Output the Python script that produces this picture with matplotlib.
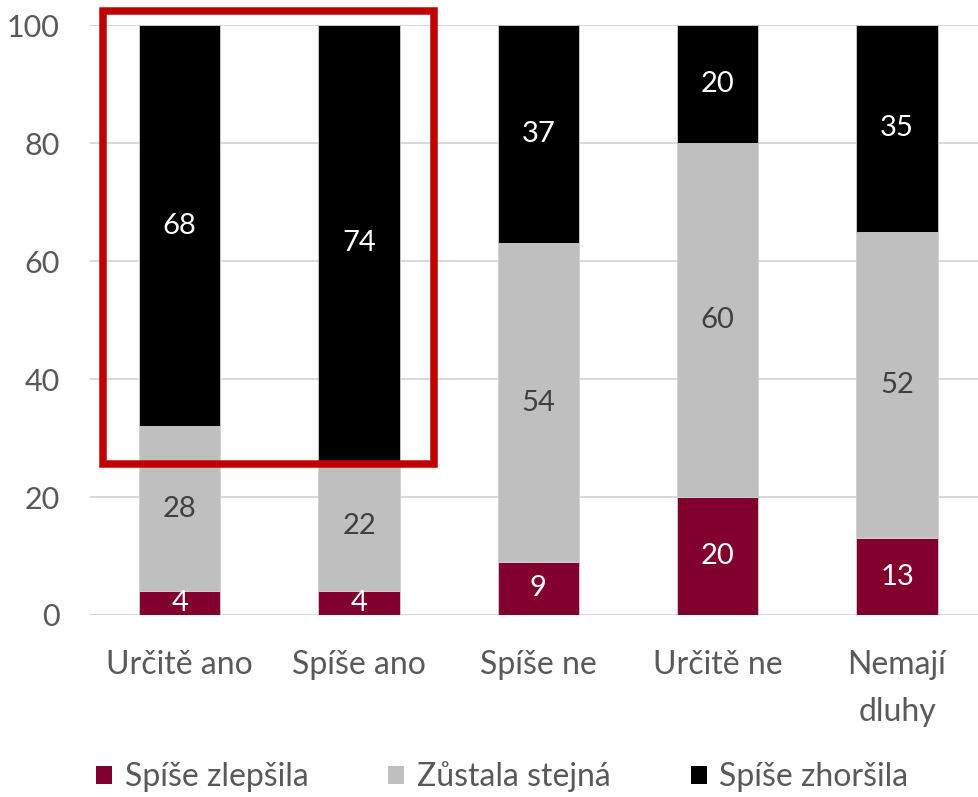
import matplotlib.pyplot as plt
import numpy as np
from matplotlib.patches import Rectangle, Patch

plt.rcParams['font.family'] = ['Lato', 'DejaVu Sans']

# Data
categories = ['Určitě ano', 'Spíše ano', 'Spíše ne', 'Určitě ne', 'Nemají\ndluhy']
better = [4, 4, 9, 20, 13]
same = [28, 22, 54, 60, 52]
worse = [68, 74, 37, 20, 35]
series_names = ['Spíše zlepšila', 'Zůstala stejná', 'Spíše zhoršila']

colors = ['#82002E', '#BFBFBF', '#000000']
label_colors = ['white', '#404040', 'white']

fig = plt.figure(figsize=(9.79, 7.97), dpi=100)
ax = fig.add_axes([90 / 979, 1 - 615 / 797, 1 - 90 / 979, 590 / 797])

x = np.arange(len(categories))
width = 0.455
bottom = np.zeros(len(categories))
for vals, c, lc in zip([better, same, worse], colors, label_colors):
    vals = np.array(vals)
    ax.bar(x, vals, width, bottom=bottom, color=c, edgecolor='#D0D0D0',
           linewidth=0.6, zorder=3)
    for xi, b, v in zip(x, bottom, vals):
        ax.text(xi, b + v / 2, str(v), ha='center', va='center',
                fontsize=21, color=lc, zorder=4)
    bottom += vals

ax.set_xlim(-0.5, 4.457)
ax.set_ylim(0, 100)
ax.set_yticks(range(0, 101, 20))
ax.set_xticks(x)
ax.set_xticklabels(categories, fontsize=23, color='#595959', linespacing=1.7)
ax.tick_params(axis='y', labelsize=22, labelcolor='#595959', length=0, pad=22)
ax.tick_params(axis='x', length=0, pad=25)
ax.grid(axis='y', color='#D9D9D9', linewidth=1.5, zorder=0)
for s in ax.spines.values():
    s.set_visible(False)

# Highlight box around the first two bars
ax.add_patch(Rectangle((-0.425, 25.6), 1.842, 76.8, fill=False,
                       edgecolor='#C00000', linewidth=5.4, clip_on=False, zorder=5))

handles = [Patch(facecolor=c) for c in colors]
fig.legend(handles, series_names, loc='center', bbox_to_anchor=(0.513, 1 - 777 / 797),
           ncol=3, frameon=False, fontsize=23, labelcolor='#595959',
           handlelength=0.5, handleheight=0.5, handletextpad=0.4, columnspacing=2.5)

fig.savefig('out.png', dpi=100)
